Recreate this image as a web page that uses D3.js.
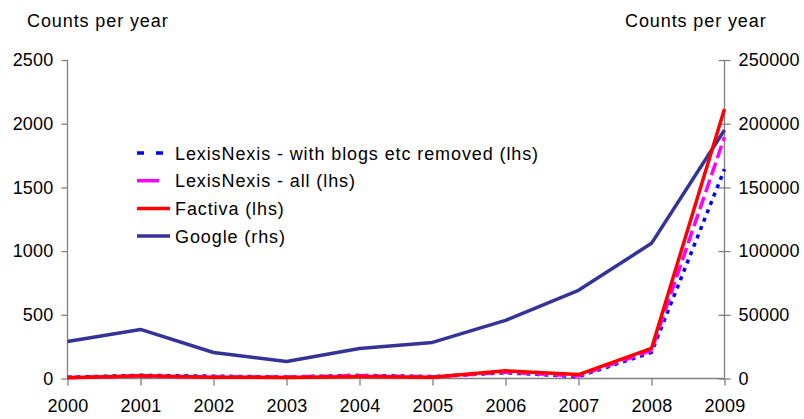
<!DOCTYPE html>
<html>
<head>
<meta charset="utf-8">
<script src="https://cdn.jsdelivr.net/npm/d3@7"></script>
<style>
  body { margin: 0; background: #fff; }
  text { font-family: "Liberation Sans", Arial, sans-serif; fill: #000; }
</style>
</head>
<body>
<div id="chart"></div>
<script>
const years = [2000, 2001, 2002, 2003, 2004, 2005, 2006, 2007, 2008, 2009];
const lexisClean = [10, 25, 18, 12, 25, 15, 45, 15, 205, 1643];
const lexisAll = [8, 18, 12, 12, 22, 12, 50, 20, 220, 1895];
const factiva = [5, 22, 10, 8, 15, 10, 60, 31, 236, 2115];
const google = [29100, 38500, 20400, 13400, 23600, 28300, 45600, 69200, 106100, 195000];
const leftTicks = [0, 500, 1000, 1500, 2000, 2500];
const rightTicks = [0, 50000, 100000, 150000, 200000, 250000];

const W = 804, H = 419;
const plotLeft = 67.5, plotRight = 724.5, plotTop = 60, plotBottom = 378.5;

const svg = d3.select("#chart").append("svg")
  .attr("width", W).attr("height", H);

const x = d3.scalePoint().domain(years).range([plotLeft, plotRight]);
const yL = d3.scaleLinear().domain([0, 2500]).range([plotBottom, plotTop]);
const yR = d3.scaleLinear().domain([0, 250000]).range([plotBottom, plotTop]);

// Axes
const axL = svg.append("g")
  .attr("transform", `translate(${plotLeft},0)`)
  .call(d3.axisLeft(yL).tickValues(leftTicks).tickSize(6).tickPadding(8).tickFormat(d3.format("d")));

const axR = svg.append("g")
  .attr("transform", `translate(${plotRight},0)`)
  .call(d3.axisRight(yR).tickValues(rightTicks).tickSize(6).tickPadding(8).tickFormat(d3.format("d")));
axR.selectAll(".tick line").attr("x1", -6);

const axX = svg.append("g")
  .attr("transform", `translate(0,${plotBottom})`)
  .call(d3.axisBottom(x).tickSize(7).tickPadding(14).tickFormat(d3.format("d")));

[axL, axR, axX].forEach(a => {
  a.select(".domain").attr("stroke", "#808080").attr("stroke-width", 1.3);
  a.selectAll(".tick line").attr("stroke", "#808080").attr("stroke-width", 1.3);
  a.selectAll(".tick text").style("font-size", "18px").style("letter-spacing", "0.2px").attr("fill", "#000");
});
axX.select(".domain").attr("d", `M${plotLeft},0H${plotRight}`);
axL.select(".domain").attr("d", `M0,${plotTop}V${plotBottom}`);
axR.select(".domain").attr("d", `M0,${plotTop}V${plotBottom}`);

// Titles
svg.append("text").attr("x", 27).attr("y", 27)
  .style("font-size", "18px").style("letter-spacing", "0.9px").text("Counts per year");
svg.append("text").attr("x", 625).attr("y", 27)
  .style("font-size", "18px").style("letter-spacing", "0.9px").text("Counts per year");

// Series
const series = [
  { name: "Google (rhs)", values: google, y: yR, color: "#333399", dash: null, legendDash: null, width: 3.5 },
  { name: "LexisNexis - with blogs etc removed (lhs)", values: lexisClean, y: yL, color: "#0000FF", dash: "4,5", legendDash: "7,12", width: 3.5 },
  { name: "LexisNexis - all (lhs)", values: lexisAll, y: yL, color: "#FF00FF", dash: "13,5", legendDash: "22,30", width: 3.5 },
  { name: "Factiva (lhs)", values: factiva, y: yL, color: "#FF0000", dash: null, legendDash: null, width: 3.5 }
];

series.forEach(s => {
  const line = d3.line().x((d, i) => x(years[i])).y(d => s.y(d));
  svg.append("path")
    .datum(s.values)
    .attr("fill", "none")
    .attr("stroke", s.color)
    .attr("stroke-width", s.width)
    .attr("stroke-linejoin", "round")
    .attr("stroke-dasharray", s.dash)
    .attr("d", line);
});

// Legend
const legendOrder = [1, 2, 3, 0];
const legend = svg.append("g").attr("transform", "translate(137,153)");
legendOrder.forEach((si, i) => {
  const s = series[si];
  const yy = i * 27.7;
  legend.append("line")
    .attr("x1", 0).attr("x2", 33).attr("y1", yy).attr("y2", yy)
    .attr("stroke", s.color).attr("stroke-width", 3.5)
    .attr("stroke-dasharray", s.legendDash);
  legend.append("text")
    .attr("x", 38).attr("y", yy + 6.5)
    .style("font-size", "18px")
    .style("letter-spacing", "0.9px")
    .text(s.name);
});
</script>
</body>
</html>
